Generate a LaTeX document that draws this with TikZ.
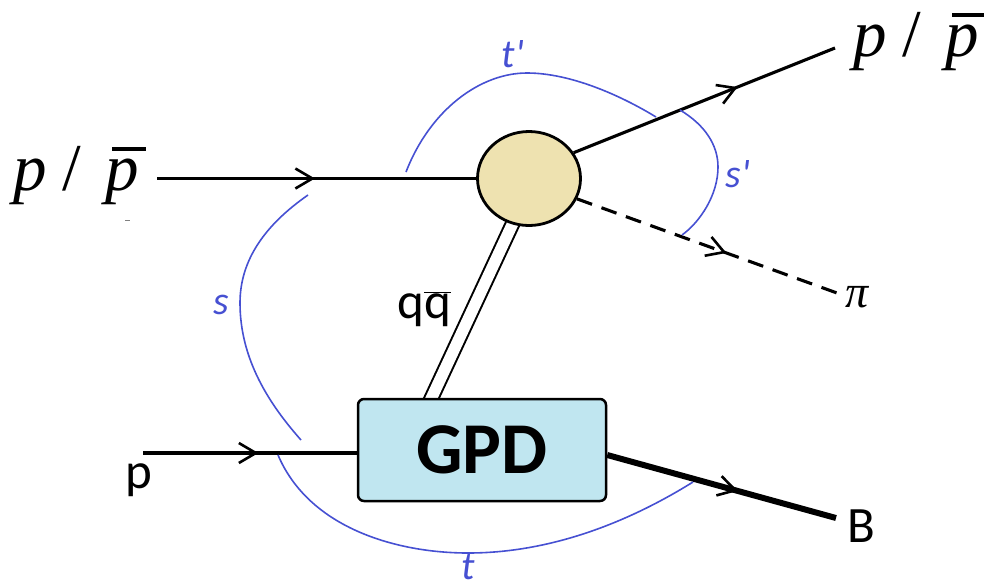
\documentclass[tikz,border=0pt]{standalone}
\usepackage{fontspec}
\setmainfont{Liberation Serif}
\newfontfamily\carl{Carlito}
\usetikzlibrary{arrows.meta,decorations.markings,calc,shapes.geometric}
\pgfdeclarelayer{background}
\pgfsetlayers{background,main}
\definecolor{arcblue}{RGB}{70,80,210}
\definecolor{blobfill}{RGB}{238,226,176}
\definecolor{boxfill}{RGB}{192,230,240}
\newcommand\myPbar{\rlap{\hspace{7pt}\raisebox{39pt}{\rule{34pt}{3.6pt}}}\textit{p}}
\newcommand\myPP{\textit{p}\hspace{16pt}/\hspace{24pt}\myPbar}
\tikzset{
  prop/.style={line width=3.1pt},
  midarrow/.style={postaction={decorate},decoration={markings,mark=at position #1 with {\pgfsetdash{}{0pt}\arrow{Straight Barb[length=17pt,width=20pt,line width=2.6pt]}}}},
  kin/.style={arcblue,line width=1.6pt},
  kinlabel/.style={text=arcblue,font=\carl\itshape\fontsize{40}{42}\selectfont,inner sep=0,anchor=base},
  biglabel/.style={font=\fontsize{67}{72}\selectfont,inner sep=0,anchor=base west},
  sanslabel/.style={font=\carl\fontsize{51}{56}\selectfont,inner sep=0,anchor=base},
}
\begin{document}
\begin{tikzpicture}[x=1pt,y=-1pt]
\useasboundingbox (0,0) rectangle (984,587);
% nodes
\node[draw,line width=2.8pt,fill=blobfill,ellipse,minimum width=103pt,minimum height=94pt,inner sep=0] (E) at (529,178.5) {};
\node[draw,line width=2.5pt,rounded corners=6pt,fill=boxfill,minimum width=248pt,minimum height=102pt,inner sep=0,
      font=\carl\bfseries\fontsize{73}{80}\selectfont] (G) at (482,450) {GPD};
% endpoints
\coordinate (pinA) at (157,178.5);
\coordinate (pinB) at (143,453);
\coordinate (pout) at (835,48);
\coordinate (piout) at (837,293);
\coordinate (Bend) at (836,518);
\coordinate (qb) at (431.5,398);
\begin{pgfonlayer}{background}
\draw[prop,midarrow=0.495] (pinA) -- (pinA -| E.west);
\draw[prop,midarrow=0.627] (E.30) -- (pout);
\draw[prop,dash pattern=on 16pt off 10pt,midarrow=0.575] (E.337) -- (piout);
\draw[line width=2pt,double=white,double distance=11.5pt] ($(qb)!1.08!(E.250)$) -- ($(E.250)!1.04!(qb)$);
\draw[prop,midarrow=0.54] (pinB) -- (pinB -| G.west);
\draw[line width=6pt,midarrow=0.571] ($(G.east)+(0,5)$) -- (Bend);
\end{pgfonlayer}
% kinematic arcs
\coordinate (tpA) at (406,172);
\coordinate (tpB) at (656,117);
\draw[kin] (tpA) .. controls (430,110) and (480,73) .. (527,73) .. controls (570,73) and (620,95) .. (tpB);
\coordinate (spA) at (680,110);
\coordinate (spB) at (682,235);
\draw[kin] (spA) .. controls (705,125) and (718,145) .. (718,167) .. controls (718,195) and (700,222) .. (spB);
\coordinate (sA) at (308,195);
\coordinate (sB) at (301,440);
\draw[kin] (sA) .. controls (265,225) and (240,260) .. (240,303) .. controls (240,360) and (270,405) .. (sB);
\coordinate (tA) at (278,455);
\coordinate (tB) at (693,482);
\draw[kin] (tA) .. controls (310,530) and (400,553) .. (468,553) .. controls (560,553) and (640,515) .. (tB);
% labels
\node[kinlabel] (ltp) at (513,67) {t\textquotesingle};
\node[kinlabel] (lsp) at (738,187) {s\textquotesingle};
\node[kinlabel] (ls) at (221,314) {s};
\node[kinlabel] (lt) at (468,579) {t};
\node[biglabel] (Lin) at (13,190) {\myPP};
\node[biglabel] (Lout) at (853,56) {\myPP};
\node[font=\itshape\fontsize{46}{48}\selectfont,inner sep=0,anchor=base] (lpi) at (857,307) {π};
\node[sanslabel] (lp) at (139,488) {p};
\node[sanslabel] (lq) at (424,318) {q$\overline{\hbox{q}}$};
\node[sanslabel] (lB) at (861,542) {B};
\draw[gray,line width=0.8pt] (125,220) -- (130,220);
\end{tikzpicture}
\end{document}
